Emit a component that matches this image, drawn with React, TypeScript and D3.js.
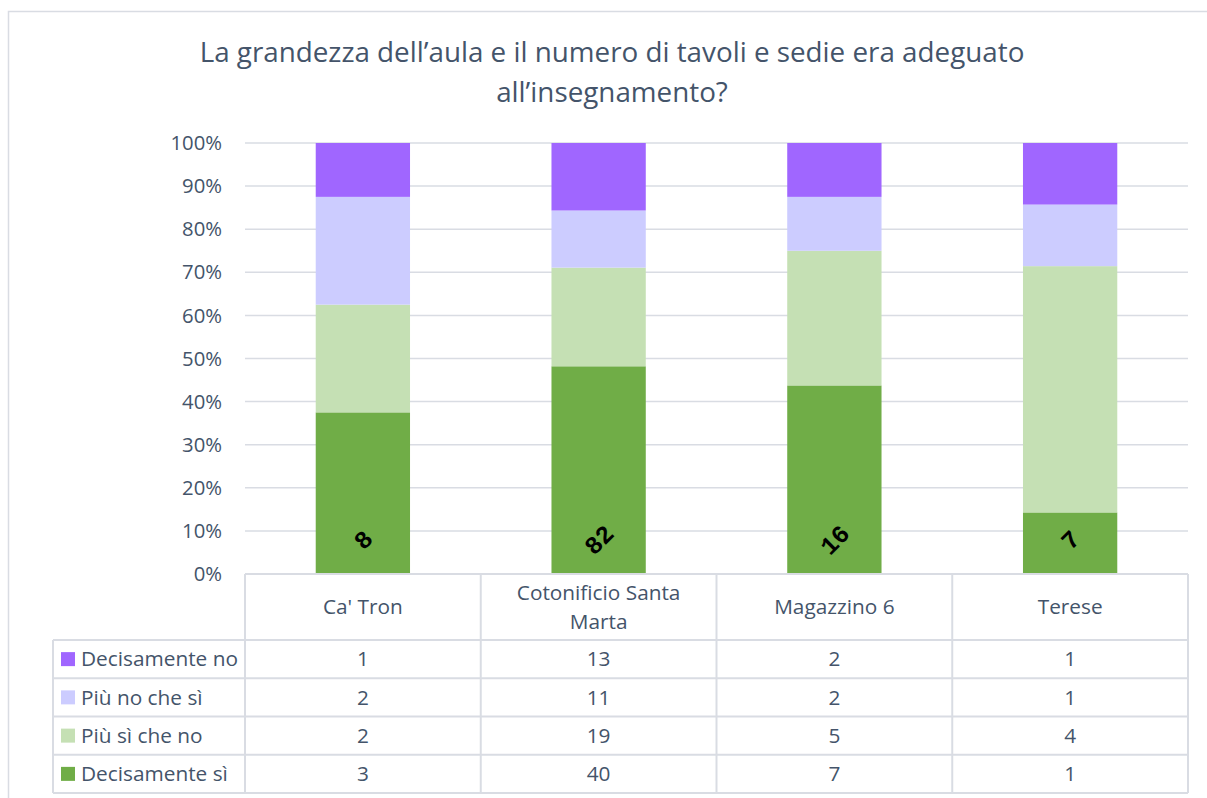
import React from "react";
import * as d3 from "d3";

const categories = ["Ca' Tron", "Cotonificio Santa Marta", "Magazzino 6", "Terese"];
const categoryLines = [["Ca' Tron"], ["Cotonificio Santa", "Marta"], ["Magazzino 6"], ["Terese"]];
const seriesNames = ["Decisamente sì", "Più sì che no", "Più no che sì", "Decisamente no"];
const decisamenteSi = [3, 40, 7, 1];
const piuSiCheNo = [2, 19, 5, 4];
const piuNoCheSi = [2, 11, 2, 1];
const decisamenteNo = [1, 13, 2, 1];
const totalLabels = ["8", "82", "16", "7"];
const yTicks = [0, 0.1, 0.2, 0.3, 0.4, 0.5, 0.6, 0.7, 0.8, 0.9, 1];
const colors = ["#70AD47", "#C5E0B4", "#CCCCFF", "#A066FF"];
const title = ["La grandezza dell’aula e il numero di tavoli e sedie era adeguato", "all’insegnamento?"];

const seriesValues = [decisamenteSi, piuSiCheNo, piuNoCheSi, decisamenteNo];

export default function App() {
  const W = 1207, H = 798;
  const left = 245, right = 1188, top = 143, bottom = 574;
  const x = d3.scaleBand<string>().domain(categories).range([left, right]).paddingInner(0.6).paddingOuter(0.3);
  const xCol = d3.scaleBand<string>().domain(categories).range([left, right]);
  const y = d3.scaleLinear().domain([0, 1]).range([bottom, top]);
  const fmt = d3.format(".0%");
  const textColor = "#44546A";
  const gridColor = "#D9DCE3";
  const font = "'Open Sans', sans-serif";
  const fs = 20.8;

  const data = categories.map((c, i) => {
    const row: any = { cat: c };
    seriesNames.forEach((s, j) => (row[s] = seriesValues[j][i]));
    return row;
  });
  const stacked = d3.stack().keys(seriesNames).offset(d3.stackOffsetExpand)(data as any);

  const headerBottom = 640;
  const rowH = (793 - headerBottom) / 4;
  const tableRows = [...seriesNames].reverse();
  const legendLeft = 53;

  return (
    <svg width={W} height={H} style={{ position: "absolute", left: 0, top: 0, background: "#fff" }} fontFamily={font}>
      <rect x={8.5} y={11.5} width={1250} height={850} fill="#fff" stroke={gridColor} strokeWidth={1.5} />
      {title.map((t, i) => (
        <text key={i} x={612} y={62 + i * 40} textAnchor="middle" fontSize={27.8} fill={textColor}>{t}</text>
      ))}
      {yTicks.map((t) => (
        <g key={t}>
          {t > 0 && <line x1={left} x2={right} y1={y(t)} y2={y(t)} stroke={gridColor} strokeWidth={1.5} />}
          <text x={222} y={y(t)} dy="0.35em" textAnchor="end" fontSize={20.3} fill={textColor}>{fmt(t)}</text>
        </g>
      ))}
      {stacked.map((s, j) => (
        <g key={j} fill={colors[j]}>
          {s.map((d, i) => (
            <rect key={i} x={x(categories[i])} width={x.bandwidth()} y={y(d[1])} height={y(d[0]) - y(d[1])} />
          ))}
        </g>
      ))}
      {categories.map((c, i) => (
        <text key={c} transform={`translate(${x(c)! + x.bandwidth() / 2},${y(0.08)}) rotate(-45)`} textAnchor="middle" dy="0.35em" fontFamily="'Liberation Mono', monospace" fontWeight="bold" fontSize={25} fill="#000">{totalLabels[i]}</text>
      ))}
      <g stroke={gridColor} strokeWidth={2}>
        <line x1={left} x2={right} y1={bottom} y2={bottom} />
        {[0, 1, 2, 3, 4].map((k) => (
          <line key={k} x1={legendLeft} x2={right} y1={headerBottom + k * rowH} y2={headerBottom + k * rowH} />
        ))}
        {[...categories.map((c) => xCol(c)!), right].map((xx, k) => (
          <line key={k} x1={xx} x2={xx} y1={bottom} y2={793} />
        ))}
        <line x1={legendLeft} x2={legendLeft} y1={headerBottom} y2={793} />
      </g>
      {categories.map((c, i) => {
        const lines = categoryLines[i];
        const cx = xCol(c)! + xCol.bandwidth() / 2;
        const cy = (bottom + headerBottom) / 2;
        return lines.map((l, k) => (
          <text key={c + k} x={cx} y={cy + (k - (lines.length - 1) / 2) * 29} dy="0.35em" textAnchor="middle" fontSize={fs} fill={textColor}>{l}</text>
        ));
      })}
      {tableRows.map((s, r) => {
        const j = seriesNames.indexOf(s);
        const cy = headerBottom + r * rowH + rowH / 2;
        return (
          <g key={s}>
            <rect x={61} y={cy - 7} width={14} height={14} fill={colors[j]} />
            <text x={81} y={cy} dy="0.35em" fontSize={fs} fill={textColor}>{s}</text>
            {categories.map((c, i) => (
              <text key={c} x={xCol(c)! + xCol.bandwidth() / 2} y={cy} dy="0.35em" textAnchor="middle" fontSize={fs} fill={textColor}>{seriesValues[j][i]}</text>
            ))}
          </g>
        );
      })}
    </svg>
  );
}
